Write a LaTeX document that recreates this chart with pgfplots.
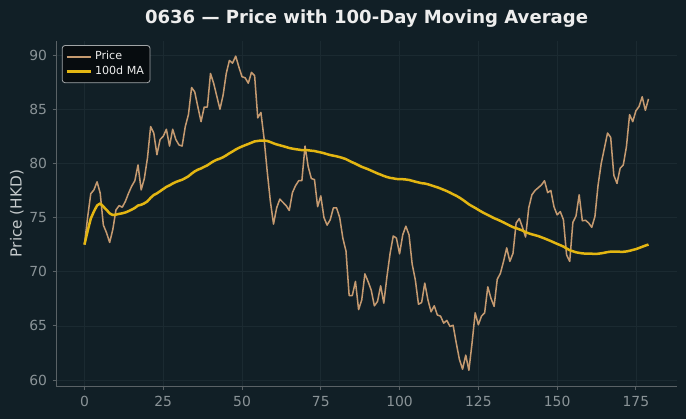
\documentclass[border=0pt]{standalone}
\usepackage{fontspec}
\setmainfont{DejaVu Sans}
\usepackage{pgfplots}
\usepackage{pgfplotstable}
\pgfplotsset{compat=1.18}

\definecolor{bgcol}{HTML}{111F26}
\definecolor{gridcol}{HTML}{1B2A31}
\definecolor{spinecol}{HTML}{5A6266}
\definecolor{tickcol}{HTML}{8A9397}
\definecolor{labelcol}{HTML}{C4C9CB}
\definecolor{titlecol}{HTML}{EDEDED}
\definecolor{pricecol}{HTML}{C59A70}
\definecolor{macol}{HTML}{E3B612}
\definecolor{legfill}{HTML}{070C0F}
\definecolor{legdraw}{HTML}{A0A4A6}

% day, closing price, 100-day moving average
\pgfplotstableread{
day price ma
0 72.5 72.50
1 75.0 73.75
2 77.2 74.90
3 77.55 75.56
4 78.3 76.11
5 77.25 76.30
6 74.3 76.01
7 73.6 75.71
8 72.7 75.38
9 73.9 75.23
10 75.7 75.27
11 76.1 75.34
12 75.95 75.39
13 76.5 75.47
14 77.25 75.59
15 77.9 75.73
16 78.4 75.89
17 79.85 76.11
18 77.55 76.18
19 78.6 76.31
20 80.5 76.50
21 83.4 76.82
22 82.8 77.08
23 80.8 77.23
24 82.2 77.43
25 82.5 77.63
26 83.15 77.83
27 81.6 77.97
28 83.15 78.14
29 82.2 78.28
30 81.7 78.39
31 81.6 78.49
32 83.4 78.64
33 84.5 78.81
34 87.0 79.05
35 86.6 79.26
36 85.2 79.42
37 83.85 79.53
38 85.2 79.68
39 85.2 79.82
40 88.3 80.02
41 87.4 80.20
42 86.2 80.34
43 85.0 80.44
44 86.3 80.57
45 88.3 80.74
46 89.5 80.93
47 89.25 81.10
48 89.9 81.28
49 88.9 81.43
50 88.0 81.56
51 87.9 81.68
52 87.4 81.79
53 88.4 81.91
54 88.1 82.03
55 84.2 82.07
56 84.7 82.11
57 82.3 82.11
58 79.25 82.07
59 76.5 81.97
60 74.4 81.85
61 75.9 81.75
62 76.7 81.67
63 76.4 81.59
64 76.1 81.51
65 75.65 81.42
66 77.3 81.36
67 77.95 81.31
68 78.4 81.27
69 78.4 81.22
70 81.6 81.23
71 79.7 81.21
72 78.6 81.17
73 78.5 81.14
74 76.0 81.07
75 77.0 81.01
76 75.0 80.94
77 74.3 80.85
78 74.8 80.77
79 75.9 80.71
80 75.9 80.65
81 75.0 80.58
82 73.1 80.49
83 71.9 80.39
84 67.8 80.24
85 67.8 80.10
86 69.1 79.97
87 66.5 79.82
88 67.4 79.68
89 69.8 79.57
90 69.1 79.46
91 68.3 79.33
92 66.85 79.20
93 67.25 79.07
94 68.7 78.96
95 67.1 78.84
96 69.55 78.74
97 71.7 78.66
98 73.3 78.62
99 73.1 78.56
100 71.65 78.55
101 73.4 78.54
102 74.2 78.51
103 73.4 78.47
104 70.7 78.39
105 69.25 78.31
106 67.0 78.24
107 67.15 78.17
108 68.95 78.14
109 67.4 78.07
110 66.3 77.98
111 66.85 77.88
112 66.0 77.79
113 65.9 77.68
114 65.25 77.56
115 65.5 77.44
116 64.95 77.30
117 65.05 77.15
118 63.4 77.01
119 61.9 76.84
120 61.0 76.65
121 62.3 76.44
122 60.9 76.22
123 63.4 76.05
124 66.2 75.89
125 65.1 75.71
126 65.9 75.54
127 66.2 75.38
128 68.6 75.24
129 67.55 75.09
130 66.8 74.94
131 69.3 74.82
132 69.85 74.69
133 70.95 74.55
134 72.2 74.40
135 70.95 74.25
136 71.7 74.11
137 74.5 74.02
138 74.9 73.91
139 74.1 73.80
140 73.2 73.65
141 75.9 73.54
142 77.1 73.45
143 77.5 73.37
144 77.75 73.29
145 78.0 73.18
146 78.4 73.07
147 77.3 72.95
148 77.5 72.83
149 76.0 72.70
150 75.25 72.57
151 75.55 72.45
152 74.8 72.32
153 71.55 72.15
154 70.95 71.98
155 74.55 71.89
156 75.15 71.79
157 77.1 71.74
158 74.7 71.69
159 74.75 71.67
160 74.5 71.68
161 74.1 71.66
162 75.1 71.64
163 78.0 71.66
164 80.0 71.70
165 81.4 71.75
166 82.8 71.81
167 82.4 71.85
168 78.9 71.86
169 78.15 71.86
170 79.55 71.84
171 79.85 71.84
172 81.55 71.87
173 84.5 71.93
174 83.85 72.01
175 84.85 72.08
176 85.25 72.19
177 86.15 72.30
178 84.9 72.41
179 85.95 72.51
}\pricetable

\begin{document}
\begin{tikzpicture}
\useasboundingbox (0,0) rectangle (493.9pt,301.7pt);
\fill[bgcol] (0,0) rectangle (493.9pt,301.7pt);
\begin{axis}[
  at={(40.5pt,23.8pt)}, anchor=south west,
  scale only axis, width=446.7pt, height=248.4pt,
  xmin=-8.95, xmax=187.95, ymin=59.45, ymax=91.3,
  axis x line*=bottom, axis y line*=left,
  axis line style={draw=spinecol, line width=0.6pt, -},
  xtick={0,25,...,175}, ytick={60,65,...,90},
  tick align=outside, major tick length=2.6pt,
  tick style={draw=spinecol, line width=0.6pt},
  grid=major, major grid style={draw=gridcol, line width=0.5pt},
  /pgf/number format/assume math mode=true,
  ticklabel style={font=\fontsize{10}{12}\selectfont, text=tickcol},
  xticklabel style={yshift=-1.5pt},
  yticklabel style={xshift=-0.5pt},
  title={0636 — Price with 100-Day Moving Average},
  title style={at={(0.5,1)}, anchor=base, yshift=6.5pt,
    font=\fontsize{13}{15}\selectfont\bfseries, text=titlecol},
  ylabel={Price (HKD)},
  ylabel style={at={(axis description cs:-0.0634,0.5)}, anchor=center,
    font=\fontsize{11}{13}\selectfont, text=labelcol},
  legend style={at={(0.009,0.988)}, anchor=north west,
    fill=legfill, draw=legdraw, rounded corners=2pt, line width=0.6pt,
    font=\fontsize{8}{10}\selectfont, text=titlecol,
    inner sep=2.3pt, row sep=-1pt},
  legend cell align=left,
  legend image code/.code={\draw[#1] (0pt,0pt) -- (17.5pt,0pt);},
]
\addplot[pricecol, line width=1.1pt, line join=round] table[x=day, y=price] {\pricetable};
\addlegendentry{Price}
\addplot[macol, line width=1.8pt, line join=round] table[x=day, y=ma] {\pricetable};
\addlegendentry{100d MA}
\end{axis}
\end{tikzpicture}
\end{document}
